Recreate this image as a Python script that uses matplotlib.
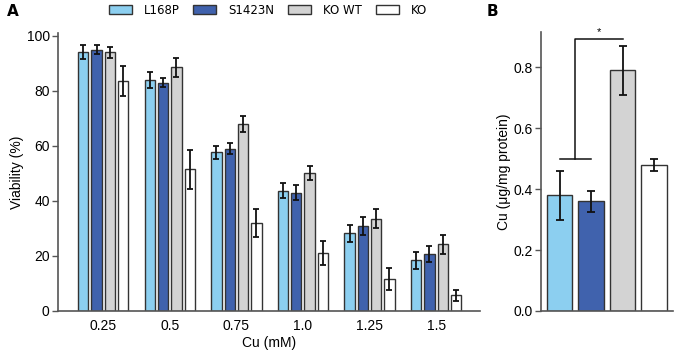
import numpy as np
import matplotlib
matplotlib.use("Agg")
import matplotlib.pyplot as plt

plt.rcParams['font.family'] = ['Liberation Sans', 'DejaVu Sans']

# panel A data: viability (%) per Cu concentration
doses = ['0.25', '0.5', '0.75', '1.0', '1.25', '1.5']
strains = ['L168P', 'S1423N', 'KO WT', 'KO']
colors = ['#8ccff0', '#4062ad', '#d3d3d3', '#ffffff']

via_L168P = [94.0, 84.0, 57.6, 43.7, 28.3, 18.5]
via_S1423N = [95.0, 83.0, 59.0, 43.0, 30.9, 20.7]
via_KOWT = [94.0, 88.5, 68.0, 50.0, 33.5, 24.2]
via_KO = [83.5, 51.5, 31.9, 21.2, 11.6, 5.7]

err_L168P = [2.5, 3.0, 2.5, 2.7, 3.1, 3.1]
err_S1423N = [1.5, 1.5, 2.0, 2.8, 3.2, 3.0]
err_KOWT = [2.0, 3.5, 3.0, 2.5, 3.5, 3.5]
err_KO = [5.5, 7.0, 5.0, 4.4, 4.0, 2.0]

# panel B data: Cu content (ug/mg protein)
cu_content = [0.38, 0.36, 0.79, 0.48]
cu_err = [0.08, 0.035, 0.08, 0.02]

fig = plt.figure(figsize=(6.76, 3.54), dpi=100)
axA = fig.add_axes([58/676, 1-311/354, 422/676, 278/354])
axB = fig.add_axes([541/676, 1-311/354, 132/676, 279/354])

edge = '#333333'
spine_c = '#555555'
vals = [via_L168P, via_S1423N, via_KOWT, via_KO]
errs = [err_L168P, err_S1423N, err_KOWT, err_KO]
x = np.arange(len(doses))
for i in range(4):
    axA.bar(x + (i - 1.5) * 0.2, vals[i], 0.155, yerr=errs[i], color=colors[i],
            edgecolor=edge, linewidth=1.0, label=strains[i],
            error_kw=dict(ecolor='#111111', elinewidth=1.3, capsize=2.5, capthick=1.3))

axA.set_xlim(-0.68, 5.66)
axA.set_ylim(0, 101)
axA.set_xticks(x)
axA.set_xticklabels(doses)
axA.set_yticks([0, 20, 40, 60, 80, 100])
axA.set_xlabel('Cu (mM)', fontsize=10, labelpad=2)
axA.set_ylabel('Viability (%)', fontsize=10, labelpad=2)
axA.tick_params(axis='x', length=0, pad=6, labelsize=10)
axA.tick_params(axis='y', length=4, width=1, color=spine_c, pad=2, labelsize=10)
for s in ['top', 'right']:
    axA.spines[s].set_visible(False)
for s in ['left', 'bottom']:
    axA.spines[s].set_color(spine_c)
    axA.spines[s].set_linewidth(1.2)

xb = np.arange(4)
axB.bar(xb, cu_content, 0.8, yerr=cu_err, color=colors, edgecolor=edge, linewidth=1.0,
        error_kw=dict(ecolor='#111111', elinewidth=1.3, capsize=3, capthick=1.3))
# significance bracket
axB.plot([0, 1], [0.497, 0.497], color='#111111', lw=1.1)
axB.plot([0.5, 0.5, 2.0], [0.497, 0.893, 0.893], color='#111111', lw=1.1)
axB.text(1.25, 0.897, '*', ha='center', va='bottom', fontsize=8)
axB.set_xlim(-0.59, 3.6)
axB.set_ylim(0, 0.915)
axB.set_xticks([])
axB.set_yticks([0.0, 0.2, 0.4, 0.6, 0.8])
axB.set_ylabel('Cu (μg/mg protein)', fontsize=10, labelpad=2)
axB.tick_params(axis='y', length=4, width=1, color=spine_c, pad=2, labelsize=10)
for s in ['top', 'right']:
    axB.spines[s].set_visible(False)
for s in ['left', 'bottom']:
    axB.spines[s].set_color(spine_c)
    axB.spines[s].set_linewidth(1.2)

leg = axA.legend(loc='center', bbox_to_anchor=(268/676, 1-10/354), bbox_transform=fig.transFigure,
                 ncol=4, frameon=False, prop={'family': 'DejaVu Sans', 'size': 8.5},
                 handlelength=1.95, handleheight=0.75, columnspacing=1.2, handletextpad=1.0,
                 borderpad=0, borderaxespad=0)
for p in leg.get_patches():
    p.set_edgecolor(edge)

fig.text(7/676, 1-12/354, 'A', fontsize=11, fontweight='bold', va='center', ha='left',
         family='DejaVu Sans')
fig.text(487/676, 1-12/354, 'B', fontsize=11, fontweight='bold', va='center', ha='left',
         family='DejaVu Sans')

fig.savefig('out.png', dpi=100)
